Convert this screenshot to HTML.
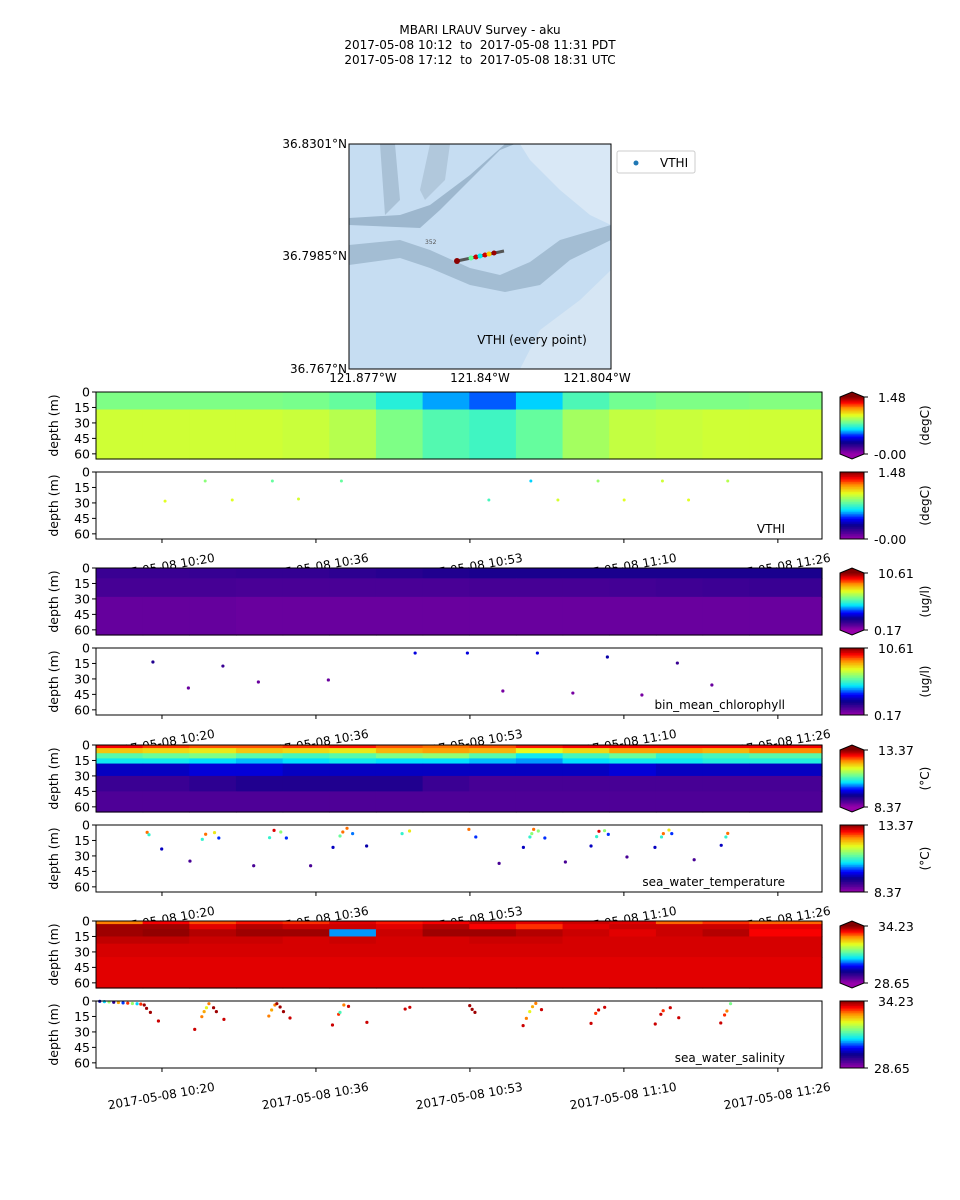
<!DOCTYPE html>
<html><head><meta charset="utf-8"><style>
html,body{margin:0;padding:0;background:#fff;}
svg{display:block;font-family:"DejaVu Sans","Liberation Sans",sans-serif;}
</style></head><body>
<svg id="chart" width="960" height="1200" viewBox="0 0 960 1200" xmlns="http://www.w3.org/2000/svg">
<rect width="960" height="1200" fill="#fff"/>
<g font-size="12" text-anchor="middle" fill="#000">
<text x="480" y="34">MBARI LRAUV Survey - aku</text>
<text x="480" y="49">2017-05-08 10:12&#160; to&#160; 2017-05-08 11:31 PDT</text>
<text x="480" y="64">2017-05-08 17:12&#160; to&#160; 2017-05-08 18:31 UTC</text>
</g>
<g>
<rect x="349" y="144" width="262" height="225" fill="#c6ddf2"/>
<polygon points="520,144 611,144 611,225 590,215 560,190 530,160" fill="#d9e8f6"/>
<polygon points="520,369 611,369 611,270 580,300 540,330" fill="#d6e6f4"/>
<polygon points="349,225 420,228 440,210 470,180 500,150 515,144 505,144 470,175 430,205 400,215 349,218" fill="#9db7ce"/>
<polygon points="349,245 400,240 430,250 470,268 500,275 530,262 560,240 611,225 611,240 570,260 540,285 505,292 470,285 430,268 400,258 349,265" fill="#a3bdd3"/>
<polygon points="380,144 395,144 400,200 385,215" fill="#a9c1d6"/>
<polygon points="430,144 450,144 445,180 425,200 420,190" fill="#b1c8dc"/>
<text x="425" y="244" font-size="6" fill="#555">352</text>
<line x1="457" y1="261" x2="504" y2="251" stroke="#555" stroke-width="3"/>
<circle cx="457" cy="261" r="3" fill="#8b0000"/>
<circle cx="471" cy="258" r="2.5" fill="#66ff99"/>
<circle cx="476" cy="257" r="2.5" fill="#cc0000"/>
<circle cx="480" cy="256" r="2.5" fill="#00eeee"/>
<circle cx="485" cy="255" r="2.5" fill="#cc0000"/>
<circle cx="489" cy="254" r="2.5" fill="#ffcc00"/>
<circle cx="494" cy="253" r="2.5" fill="#990000"/>
<text x="532" y="344" font-size="12" text-anchor="middle">VTHI (every point)</text>
<rect x="349" y="144" width="262" height="225" fill="none" stroke="#000" stroke-width="1"/>
</g>
<g>
<rect x="617" y="151" width="78" height="22" rx="2" fill="#fff" stroke="#ccc"/>
<circle cx="636" cy="163" r="2.5" fill="#1f77b4"/>
<text x="660" y="167" font-size="12">VTHI</text>
</g>
<g font-size="12">
<text x="347" y="148" text-anchor="end">36.8301°N</text>
<text x="347" y="260" text-anchor="end">36.7985°N</text>
<text x="347" y="373" text-anchor="end">36.767°N</text>
<text x="363" y="382" text-anchor="middle">121.877°W</text>
<text x="480" y="382" text-anchor="middle">121.84°W</text>
<text x="597" y="382" text-anchor="middle">121.804°W</text>
</g>
<g id="panels"></g>
</svg>
<script>
// ---- data ----
const tickMinutes = [7.07, 23.57, 40.07, 56.57, 73.07];
const tickLabels = ["2017-05-08 10:20","2017-05-08 10:36","2017-05-08 10:53","2017-05-08 11:10","2017-05-08 11:26"];
const depthTicks = [0, 15, 30, 45, 60];
const timeEdges = [0,5,10,15,20,25,30,35,40,45,50,55,60,65,70,78];
const vthiDepthEdges = [0,17,65];
const vthiGrid = [
 [0.84,0.84,0.84,0.84,0.83,0.80,0.70,0.58,0.52,0.62,0.76,0.82,0.84,0.84,0.85],
 [0.97,0.97,0.97,0.97,0.96,0.93,0.84,0.77,0.74,0.80,0.90,0.95,0.96,0.97,0.97]];
const vthiT = [7.4,11.7,14.6,18.9,21.7,26.3,42.1,46.6,49.5,53.8,56.6,60.7,63.5,67.7];
const vthiD = [28.2,8.7,27.2,8.7,26.2,8.7,27.2,8.7,27.2,8.7,27.2,8.7,27.2,8.7];
const vthiV = [1.0,0.86,1.0,0.80,0.98,0.80,0.75,0.62,0.98,0.88,1.0,0.97,1.0,0.93];
const chlDepthEdges = [0,10,28,65];
const chlGrid = [
 [1.5,1.5,1.55,1.6,1.6,1.7,1.8,1.9,2.0,2.0,2.0,2.0,2.0,2.0,2.0],
 [1.3,1.3,1.3,1.25,1.25,1.25,1.25,1.25,1.3,1.3,1.3,1.35,1.4,1.45,1.5],
 [0.85,0.85,0.85,0.8,0.8,0.8,0.8,0.8,0.8,0.8,0.8,0.8,0.8,0.8,0.8]];
const chlT = [6.1,9.9,13.6,17.4,24.9,34.2,39.8,43.6,47.3,51.1,54.8,58.5,62.3,66.0];
const chlD = [13.6,38.8,17.5,33,31,4.9,4.9,41.7,4.9,43.7,8.7,45.6,14.6,35.9];
const chlV = [1.9,0.8,1.5,0.8,0.8,3.0,3.0,0.6,3.0,0.6,2.5,0.6,1.5,0.8];
const tempDepthEdges = [0,3,8,13,18,30,45,65];
const tempGrid = [
 [12.9,12.7,12.6,12.6,12.7,12.8,12.6,12.5,12.6,12.8,12.9,12.9,12.9,12.9,12.9],
 [12.1,12.0,11.9,12.1,12.0,11.9,12.2,12.3,12.2,11.8,12.0,12.3,12.3,12.2,12.4],
 [11.0,11.1,11.2,11.0,10.9,11.0,11.2,11.3,11.0,10.6,10.9,11.1,10.8,10.9,11.0],
 [10.6,10.6,10.5,10.4,10.5,10.6,10.5,10.5,10.4,10.3,10.5,10.6,10.6,10.7,10.7],
 [9.6,9.6,9.7,9.7,9.6,9.6,9.6,9.6,9.6,9.6,9.6,9.7,9.6,9.6,9.6],
 [9.0,9.0,9.1,9.2,9.2,9.2,9.2,9.0,8.9,8.9,8.9,8.9,8.9,8.9,8.9],
 [8.85,8.85,8.85,8.85,8.85,8.85,8.85,8.85,8.85,8.85,8.85,8.85,8.85,8.85,8.85]];
const tempT = [5.48,5.68,7.04,10.07,11.39,11.75,12.7,13.16,16.9,18.6,19.08,19.8,20.4,23.0,25.4,26.15,26.45,26.9,27.5,29.0,32.8,33.6,39.96,40.7,43.2,45.8,46.5,46.7,46.9,47.4,48.1,50.3,53.05,53.65,53.9,54.5,54.9,56.9,59.9,60.6,60.8,61.4,61.7,64.1,67.0,67.5,67.7];
const tempD = [7.1,9.4,23.3,35,13.9,9,7.4,12.6,39.5,12.3,5.2,6.8,12.6,39.5,21.7,10.7,6.8,3.2,8.4,20.4,8.4,5.8,4.2,11.6,37.2,21.7,11.6,8.4,4.2,5.8,12.6,35.9,20.4,11.3,6.1,5.5,9.1,31,21.7,11.6,8.4,4.9,8.4,33.7,19.7,11.6,8.1];
const tempV = [12.5,10.8,9.6,8.9,10.8,12.5,11.9,10.0,8.9,10.8,13.0,11.3,10.0,8.9,9.6,11.1,12.5,12.5,10.2,9.5,10.8,11.9,12.5,10.0,8.9,9.6,10.8,11.3,12.5,11.3,10.0,8.9,9.6,10.8,13.0,11.3,10.0,8.9,9.6,10.8,12.5,11.9,10.0,8.9,9.6,10.8,12.5];
const salDepthEdges = [0,3,8,15,22,35,65];
const salGrid = [
 [33.2,33.7,33.4,33.6,33.5,33.8,33.6,33.7,33.9,33.8,33.9,33.8,33.3,33.5,33.3],
 [34.1,34.1,33.8,34.0,33.9,33.9,33.8,34.0,33.7,33.5,33.8,33.9,33.9,33.9,33.8],
 [34.1,34.15,34.0,34.1,34.1,30.8,33.9,34.1,34.1,34.0,33.9,33.8,33.9,34.0,33.7],
 [33.95,33.95,33.9,33.9,33.85,33.9,33.85,33.85,33.9,33.9,33.85,33.85,33.85,33.85,33.85],
 [33.85,33.85,33.85,33.85,33.85,33.85,33.85,33.85,33.85,33.85,33.85,33.85,33.85,33.85,33.85],
 [33.8,33.8,33.8,33.8,33.8,33.8,33.8,33.8,33.8,33.8,33.8,33.8,33.8,33.8,33.8]];
const salT = [0.4,0.9,1.4,1.9,2.4,2.9,3.4,3.9,4.4,4.8,5.17,5.42,5.83,6.69,10.58,11.34,11.59,11.84,12.1,12.6,12.9,13.71,18.52,18.82,19.17,19.38,19.73,20.09,20.79,25.34,26.0,26.15,26.56,27.06,29.03,33.13,33.63,40.05,40.31,40.61,45.77,46.12,46.48,46.78,47.13,47.74,53.05,53.55,53.86,54.51,59.93,60.53,60.78,61.54,62.45,66.95,67.36,67.61,68.0];
const salD = [0.3,0.6,0.9,1.2,1.5,1.8,2.1,2.4,2.7,3.0,3.9,7.1,11.0,19.4,27.5,15.2,10.3,6.5,2.6,6.5,10.3,17.8,14.6,8.7,3.9,2.6,5.8,10.3,16.5,23.3,12.9,11.0,3.9,5.2,20.7,7.8,6.1,4.5,8.1,11.0,23.9,16.8,10.3,5.5,2.3,8.4,21.7,12.0,8.7,6.1,22.3,12.9,9.4,6.5,16.2,21.3,13.6,9.7,2.6];
const salV = [30,31,32,29.5,33,30.5,33.5,32,31,33.5,34.1,34.1,34.1,33.9,33.9,33.2,33.0,32.5,33.2,34.1,34.1,33.9,33.2,33.0,33.2,34.1,34.1,34.1,33.9,33.9,33.5,31.5,33.2,33.9,33.9,33.9,33.9,34.1,34.1,34.1,33.9,33.2,32.5,33.0,33.2,33.9,33.9,33.5,33.9,33.9,33.9,33.9,33.5,33.9,33.9,33.9,33.5,33.2,31.8];

// ---- layout ----
const X0 = 96, XW = 726, TMAX = 77.8, PH = 67, DMAX = 65;
const xScale = t => X0 + t / TMAX * XW;
const stops = [[0,[150,0,170]],[0.1,[75,0,150]],[0.2,[10,0,140]],[0.3,[0,0,255]],[0.43,[0,230,255]],[0.55,[110,255,150]],[0.68,[230,255,30]],[0.8,[255,150,0]],[0.9,[255,0,0]],[1,[128,0,0]]];
function cmap(f){ f=Math.max(0,Math.min(1,f)); for(let i=1;i<stops.length;i++){ if(f<=stops[i][0]){ const a=stops[i-1],b=stops[i],u=(f-a[0])/(b[0]-a[0]); return 'rgb('+a[1].map((c,k)=>Math.round(c+(b[1][k]-c)*u)).join(',')+')'; } } return 'rgb(128,0,0)'; }
const NS='http://www.w3.org/2000/svg';
const root=document.getElementById('panels');
function el(tag,attrs,parent){ const e=document.createElementNS(NS,tag); for(const k in attrs) e.setAttribute(k,attrs[k]); (parent||root).appendChild(e); return e; }

function panel(top,name,kind,cfg){
  const g=el('g',{});
  
  
  const yS = d => top + d / DMAX * PH;
  el('rect',{x:X0,y:top,width:XW,height:PH,fill:'#fff'},g);
  const norm = v => (v-cfg.vmin)/(cfg.vmax-cfg.vmin);
  if(kind==='grid'){
    cfg.grid.forEach((row,ri)=>row.forEach((v,ci)=>{
      const x1=xScale(timeEdges[ci]), x2=xScale(Math.min(timeEdges[ci+1],TMAX));
      const y1=yS(cfg.depthEdges[ri]), y2=yS(cfg.depthEdges[ri+1]);
      const c=el('rect',{x:x1,y:y1,width:x2-x1+0.6,height:y2-y1+0.6,fill:cmap(norm(v))},g);
      
      
    }));
  } else {
    cfg.t.forEach((t,i)=>{
      const c=el('circle',{cx:xScale(t),cy:yS(cfg.d[i]),r:cfg.r||1.6,fill:cmap(norm(cfg.v[i]))},g);
      
      
    });
    const lab=el('text',{x:785,y:top+PH-6,'font-size':12,'text-anchor':'end'},g);
    lab.textContent=cfg.label;
    
    
  }
  el('rect',{x:X0,y:top,width:XW,height:PH,fill:'none',stroke:'#000','stroke-width':1},g);
  depthTicks.forEach(d=>{
    el('line',{x1:X0-4,x2:X0,y1:yS(d),y2:yS(d),stroke:'#000'},g);
    const t=el('text',{x:X0-6,y:yS(d)+4.5,'font-size':12.5,'text-anchor':'end'},g); t.textContent=d;
  });
  const yl=el('text',{x:0,y:0,'font-size':12.5,'text-anchor':'middle',transform:`translate(58,${top+PH/2}) rotate(-90)`},g);
  yl.textContent='depth (m)';
  
  
  if(cfg.xticks){
    tickMinutes.forEach((m,i)=>{
      const x=xScale(m);
      el('line',{x1:x,x2:x,y1:top+PH,y2:top+PH+4,stroke:'#000'},g);
      const t=el('text',{x:0,y:0,'font-size':12,'text-anchor':'middle',transform:`translate(${x},${top+PH+32}) rotate(-10)`},g);
      t.textContent=tickLabels[i];
      
      
    });
  }
  const cb=el('g',{},g);
  
  
  const cx=840,cw=24, ext = kind==='grid' ? 5 : 0;
  const n=40, y0=top+ext, hh=PH-2*ext;
  for(let i=0;i<n;i++){ el('rect',{x:cx,y:y0+hh*i/n,width:cw,height:hh/n+0.5,fill:cmap(1-(i+0.5)/n)},cb); }
  if(ext){
    el('polygon',{points:`${cx},${y0} ${cx+cw/2},${top} ${cx+cw},${y0}`,fill:cmap(1)},cb);
    el('polygon',{points:`${cx},${y0+hh} ${cx+cw/2},${top+PH} ${cx+cw},${y0+hh}`,fill:cmap(0)},cb);
    el('polygon',{points:`${cx},${y0} ${cx+cw/2},${top} ${cx+cw},${y0} ${cx+cw},${y0+hh} ${cx+cw/2},${top+PH} ${cx},${y0+hh}`,fill:'none',stroke:'#000'},cb);
  } else {
    el('rect',{x:cx,y:top,width:cw,height:PH,fill:'none',stroke:'#000'},cb);
  }
  el('line',{x1:cx+cw,x2:cx+cw+4,y1:top+ext,y2:top+ext,stroke:'#000'},cb);
  el('line',{x1:cx+cw,x2:cx+cw+4,y1:top+PH-ext,y2:top+PH-ext,stroke:'#000'},cb);
  const hi=el('text',{x:878,y:top+ext+5,'font-size':12.5},cb); hi.textContent=cfg.hiLabel;
  const lo=el('text',{x:874,y:top+PH-ext+5,'font-size':12.5},cb); lo.textContent=cfg.loLabel;
  const u=el('text',{x:0,y:0,'font-size':12,'text-anchor':'middle',transform:`translate(929,${top+PH/2}) rotate(-90)`},cb); u.textContent=cfg.unit;
}
const P=[392,472,568,648,745,825,921,1001];
panel(P[0],'vthi-contour-panel','grid',{grid:vthiGrid,depthEdges:vthiDepthEdges,vmin:0,vmax:1.48,hiLabel:'1.48',loLabel:'-0.00',unit:'(degC)'});
panel(P[1],'vthi-scatter-panel','pts',{t:vthiT,d:vthiD,v:vthiV,vmin:0,vmax:1.48,hiLabel:'1.48',loLabel:'-0.00',unit:'(degC)',label:'VTHI',xticks:true,r:1.5});
panel(P[2],'chlorophyll-contour-panel','grid',{grid:chlGrid,depthEdges:chlDepthEdges,vmin:0.17,vmax:10.61,hiLabel:'10.61',loLabel:'0.17',unit:'(ug/l)'});
panel(P[3],'chlorophyll-scatter-panel','pts',{t:chlT,d:chlD,v:chlV,vmin:0.17,vmax:10.61,hiLabel:'10.61',loLabel:'0.17',unit:'(ug/l)',label:'bin_mean_chlorophyll',xticks:true});
panel(P[4],'temperature-contour-panel','grid',{grid:tempGrid,depthEdges:tempDepthEdges,vmin:8.37,vmax:13.37,hiLabel:'13.37',loLabel:'8.37',unit:'(\u00B0C)'});
panel(P[5],'temperature-scatter-panel','pts',{t:tempT,d:tempD,v:tempV,vmin:8.37,vmax:13.37,hiLabel:'13.37',loLabel:'8.37',unit:'(\u00B0C)',label:'sea_water_temperature',xticks:true});
panel(P[6],'salinity-contour-panel','grid',{grid:salGrid,depthEdges:salDepthEdges,vmin:28.65,vmax:34.23,hiLabel:'34.23',loLabel:'28.65',unit:''});
panel(P[7],'salinity-scatter-panel','pts',{t:salT,d:salD,v:salV,vmin:28.65,vmax:34.23,hiLabel:'34.23',loLabel:'28.65',unit:'',label:'sea_water_salinity',xticks:true});
</script>
</body></html>
